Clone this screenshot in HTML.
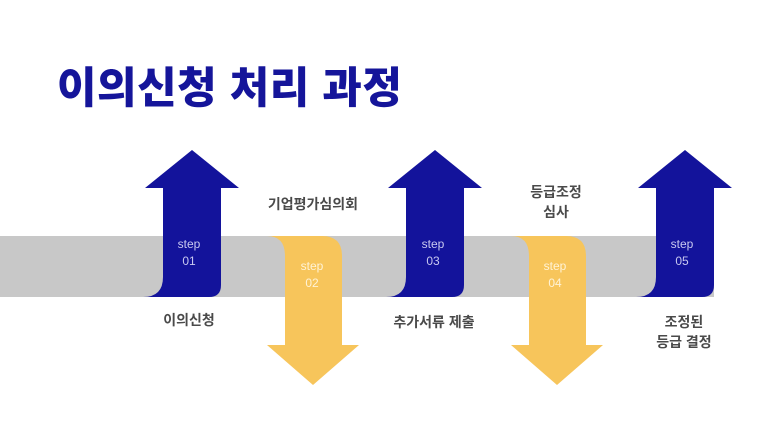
<!DOCTYPE html>
<html><head><meta charset="utf-8"><style>
html,body{margin:0;padding:0;background:#fff}
svg{display:block}
text{font-family:"Liberation Sans","Noto Sans CJK KR",sans-serif}
</style></head><body>
<svg width="768" height="432" viewBox="0 0 768 432">
<text x="57" y="103" font-size="43" font-weight="900" fill="#15159a" letter-spacing="0.5">이의신청 처리 과정</text>
<rect x="0" y="236" width="714" height="61" fill="#c8c8c8"/>
<g fill="#13139b">
<path d="M143,297 Q163,297 163,277 L163,188 L145,188 L192,150 L239,188 L221,188 L221,285 Q221,297 209,297 Z"/>
<path d="M386,297 Q406,297 406,277 L406,188 L388,188 L435,150 L482,188 L464,188 L464,285 Q464,297 452,297 Z"/>
<path d="M636,297 Q656,297 656,277 L656,188 L638,188 L685,150 L732,188 L714,188 L714,285 Q714,297 702,297 Z"/>
</g>
<g fill="#f7c55b">
<path d="M267,236 Q285,236 285,256 L285,345 L267,345 L313,385 L359,345 L342,345 L342,256 Q342,236 322,236 Z"/>
<path d="M511,236 Q529,236 529,256 L529,345 L511,345 L557,385 L603,345 L586,345 L586,256 Q586,236 566,236 Z"/>
</g>
<g font-size="12" text-anchor="middle">
<text x="189" y="248" fill="#c9c9f0">step</text><text x="189" y="265" fill="#c9c9f0">01</text>
<text x="312" y="270" fill="#fff3d6">step</text><text x="312" y="287" fill="#fff3d6">02</text>
<text x="433" y="248" fill="#c9c9f0">step</text><text x="433" y="265" fill="#c9c9f0">03</text>
<text x="555" y="270" fill="#fff3d6">step</text><text x="555" y="287" fill="#fff3d6">04</text>
<text x="682" y="248" fill="#c9c9f0">step</text><text x="682" y="265" fill="#c9c9f0">05</text>
</g>
<g font-size="14" font-weight="bold" fill="#4a4a4a" text-anchor="middle">
<text x="189" y="325">이의신청</text>
<text x="313" y="209">기업평가심의회</text>
<text x="434" y="327">추가서류 제출</text>
<text x="556" y="197">등급조정</text>
<text x="556" y="217">심사</text>
<text x="684" y="327">조정된</text>
<text x="684" y="347">등급 결정</text>
</g>
</svg>
</body></html>
